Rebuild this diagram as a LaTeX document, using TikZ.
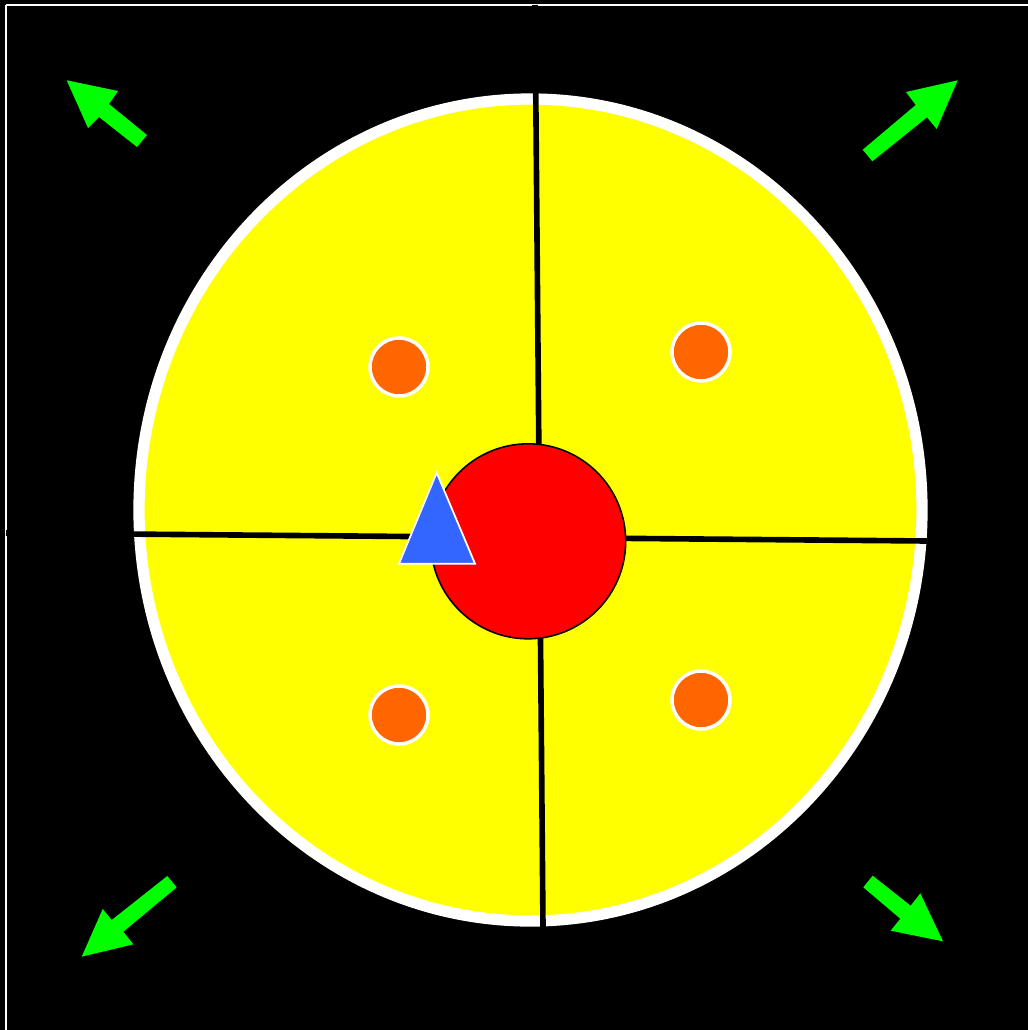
\documentclass[tikz,border=0pt]{standalone}
\usepackage{tikz}

\definecolor{discyellow}{HTML}{FFFF00}
\definecolor{hubred}{HTML}{FF0000}
\definecolor{dotorange}{HTML}{FF6600}
\definecolor{arrowgreen}{HTML}{00FF00}
\definecolor{markerblue}{HTML}{3366FF}

\begin{document}
\begin{tikzpicture}[x=0.01cm, y=-0.01cm,
    frame/.style={white, line width=0.6pt},
    disc/.style={fill=discyellow, draw=white, line width=3.2pt},
    divider/.style={black, line width=1.6pt},
    hub/.style={fill=hubred, draw=black, line width=0.45pt},
    marker/.style={fill=markerblue, draw=white, line width=0.5pt, line join=miter},
    dot/.style={fill=dotorange, draw=white, line width=1pt},
    bigarrow/.style={fill=arrowgreen, draw=none}
]
    % black canvas with thin white frame
    \fill[black] (0,0) rectangle (1028,1030);
    \useasboundingbox (0,0) rectangle (1028,1030);
    \draw[frame] (6,5) -- (1028,5);
    \draw[frame] (6,5) -- (6,1030);

    % the disc
    \draw[disc] (530.5,510) ellipse [x radius=391.5, y radius=411];

    % quadrant dividers
    \draw[divider] (535,5) -- (543,927);
    \draw[divider] (6,533) -- (928,541);

    % centre hub and marker
    \draw[hub] (528.2,541.3) circle [radius=97.5];
    \draw[marker] (436.7,472.7) -- (475,563.7) -- (399,563.7) -- cycle;

    % one dot per quadrant
    \foreach \dx/\dy in {399/367, 701/352, 399/715, 701/700}
        \draw[dot] (\dx,\dy) circle [radius=29];

    % corner arrows
    \fill[bigarrow] (66.7,80.3) -- (118,91) -- (109,104) -- (147,135)
        -- (137,147) -- (99,117) -- (88,128) -- cycle;
    \fill[bigarrow] (957.7,80.3) -- (936.7,129) -- (927,117.3) -- (872.3,161.3)
        -- (862.7,149.7) -- (915.7,105) -- (906,92) -- cycle;
    \fill[bigarrow] (943,941.3) -- (920.3,893.3) -- (910.7,905.7) -- (872.7,875.7)
        -- (863.3,887.3) -- (900.3,918.7) -- (890.7,930.7) -- cycle;
    \fill[bigarrow] (81.7,956.7) -- (102.7,909) -- (111.7,920) -- (167.3,876)
        -- (176.7,887.3) -- (123.3,931.7) -- (133.3,944.3) -- cycle;
\end{tikzpicture}
\end{document}
